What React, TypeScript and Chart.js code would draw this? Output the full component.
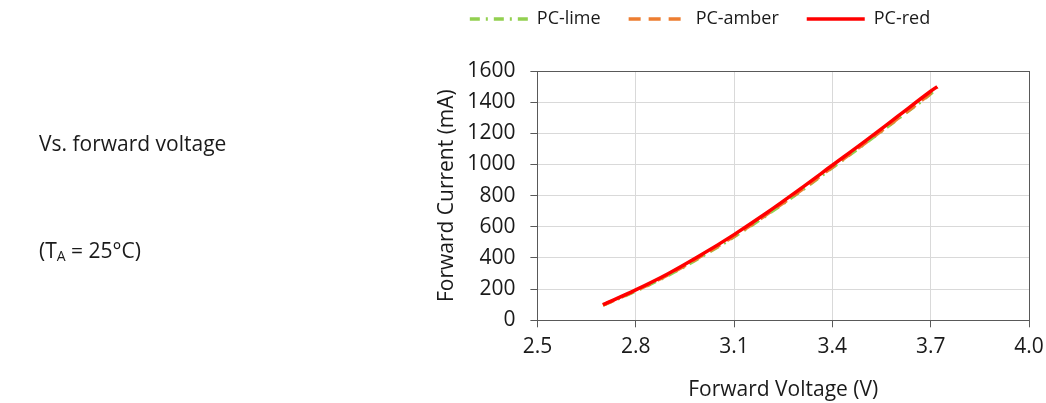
import React, { useEffect, useRef } from "react";
import { Chart, registerables } from "chart.js";

Chart.register(...registerables);

// ---- data ----
const seriesNames = ["PC-lime", "PC-amber", "PC-red"];
const voltage = [2.7, 2.8, 2.9, 3.0, 3.1, 3.2, 3.3, 3.4, 3.5, 3.6, 3.7, 3.72];
const limeCurrent = [97, 188, 290, 408, 536, 676, 824, 980, 1135, 1293, 1455, 1495];
const amberCurrent = [98, 190, 293, 412, 540, 680, 828, 983, 1138, 1296, 1458, 1497];
const redCurrent = [100, 195, 300, 420, 550, 690, 840, 995, 1150, 1310, 1470, 1500];
const xTicks = [2.5, 2.8, 3.1, 3.4, 3.7, 4.0];
const yTicks = [0, 200, 400, 600, 800, 1000, 1200, 1400, 1600];

const FONT = "'Open Sans', 'Noto Sans', sans-serif";
const GRID = "#d9d9d9";
const AXIS = "#595959";
const TEXT = "#1a1a1a";

const PAD_L = 371;
const PAD_R = 17;

function pts(xs: number[], ys: number[]) {
  return xs.map((x, i) => ({ x, y: ys[i] }));
}

export default function App() {
  const ref = useRef<HTMLCanvasElement | null>(null);

  useEffect(() => {
    if (!ref.current) return;
    const xMin = xTicks[0];
    const xMax = xTicks[xTicks.length - 1];
    const yMin = yTicks[0];
    const yMax = yTicks[yTicks.length - 1];

    const legendSpacer = {
      id: "legendSpacer",
      afterInit(chart: any) {
        const lg = chart.legend;
        if (!lg) return;
        const orig = lg.fit;
        lg.fit = function () {
          orig.call(this);
          this.height += 33;
        };
      },
    };

    const chart = new Chart(ref.current, {
      type: "line",
      data: {
        datasets: [
          {
            label: seriesNames[0],
            data: pts(voltage, limeCurrent),
            borderColor: "#92d050",
            backgroundColor: "#92d050",
            borderWidth: 3.5,
            borderDash: [10, 6, 2, 6],
            pointRadius: 0,
            cubicInterpolationMode: "monotone",
            order: 3,
          },
          {
            label: seriesNames[1],
            data: pts(voltage, amberCurrent),
            borderColor: "#ed7d31",
            backgroundColor: "#ed7d31",
            borderWidth: 3.5,
            borderDash: [12, 8],
            pointRadius: 0,
            cubicInterpolationMode: "monotone",
            order: 2,
          },
          {
            label: seriesNames[2],
            data: pts(voltage, redCurrent),
            borderColor: "#ff0000",
            backgroundColor: "#ff0000",
            borderWidth: 3.5,
            pointRadius: 0,
            cubicInterpolationMode: "monotone",
            order: 1,
          },
        ],
      },
      options: {
        animation: false,
        responsive: false,
        maintainAspectRatio: false,
        layout: { padding: { top: -18, left: PAD_L, right: PAD_R, bottom: 0 } },
        plugins: {
          legend: {
            position: "top",
            labels: {
              usePointStyle: true,
              pointStyle: "line",
              pointStyleWidth: 58,
              boxHeight: 18,
              padding: 28,
              color: TEXT,
              font: { family: FONT, size: 18 },
              sort: (a: any, b: any) => a.datasetIndex - b.datasetIndex,
              generateLabels: (ch: any) => {
                const items = Chart.defaults.plugins.legend.labels.generateLabels(ch);
                return items.map((it: any) => {
                  const ds = ch.data.datasets[it.datasetIndex];
                  return {
                    ...it,
                    lineDash: ds.borderDash || [],
                    lineWidth: ds.borderWidth,
                    strokeStyle: ds.borderColor,
                    fillStyle: ds.borderColor,
                    pointStyle: "line",
                  };
                });
              },
            },
          },
          tooltip: { enabled: false },
        },
        scales: {
          x: {
            type: "linear",
            min: xMin,
            max: xMax,
            afterFit: (s: any) => {
              s.height = 403 - 320.3;
              s.paddingLeft = 0;
              s.paddingRight = 0;
            },
            ticks: {
              stepSize: 0.3,
              color: TEXT,
              font: { family: FONT, size: 21 },
              padding: 7,
              maxRotation: 0,
              callback: (v: any) => Number(v).toFixed(1),
            },
            grid: {
              color: (c: any) => (c.tick && Math.abs(c.tick.value - xMax) < 1e-6 ? AXIS : GRID),
              tickColor: AXIS,
              tickLength: 7,
              lineWidth: 1,
            },
            border: { color: AXIS, width: 1 },
            title: {
              display: true,
              text: "Forward Voltage (V)",
              color: TEXT,
              font: { family: FONT, size: 21 },
              padding: { top: 0, bottom: 0 },
            },
          },
          y: {
            type: "linear",
            min: yMin,
            max: yMax,
            afterFit: (s: any) => {
              s.width = 537.4 - PAD_L;
            },
            ticks: {
              stepSize: 200,
              color: TEXT,
              font: { family: FONT, size: 21 },
              padding: 15,
              callback: (v: any) => String(v),
            },
            grid: {
              color: (c: any) => (c.tick && c.tick.value === yMax ? AXIS : GRID),
              tickColor: AXIS,
              tickLength: 7,
              lineWidth: 1,
            },
            border: { color: AXIS, width: 1 },
            title: {
              display: true,
              text: "Forward Current (mA)",
              color: TEXT,
              font: { family: FONT, size: 21 },
              padding: { top: 63, bottom: 0 },
            },
          },
        },
      },
      plugins: [legendSpacer],
    } as any);
    return () => chart.destroy();
  }, []);

  const textStyle: React.CSSProperties = {
    position: "absolute",
    left: 39,
    fontFamily: FONT,
    fontSize: 21,
    color: TEXT,
    lineHeight: "24px",
    whiteSpace: "nowrap",
  };

  return (
    <div style={{ position: "absolute", left: 0, top: 0, width: 1046, height: 403, background: "#fff" }}>
      <canvas ref={ref} width={1046} height={403} style={{ display: "block", position: "absolute", left: 0, top: 0 }} />
      <div style={{ ...textStyle, top: 131 }}>Vs. forward voltage</div>
      <div style={{ ...textStyle, top: 238 }}>
        (T<sub style={{ fontSize: 14, verticalAlign: "baseline", position: "relative", top: 3 }}>A</sub> = 25°C)
      </div>
    </div>
  );
}
